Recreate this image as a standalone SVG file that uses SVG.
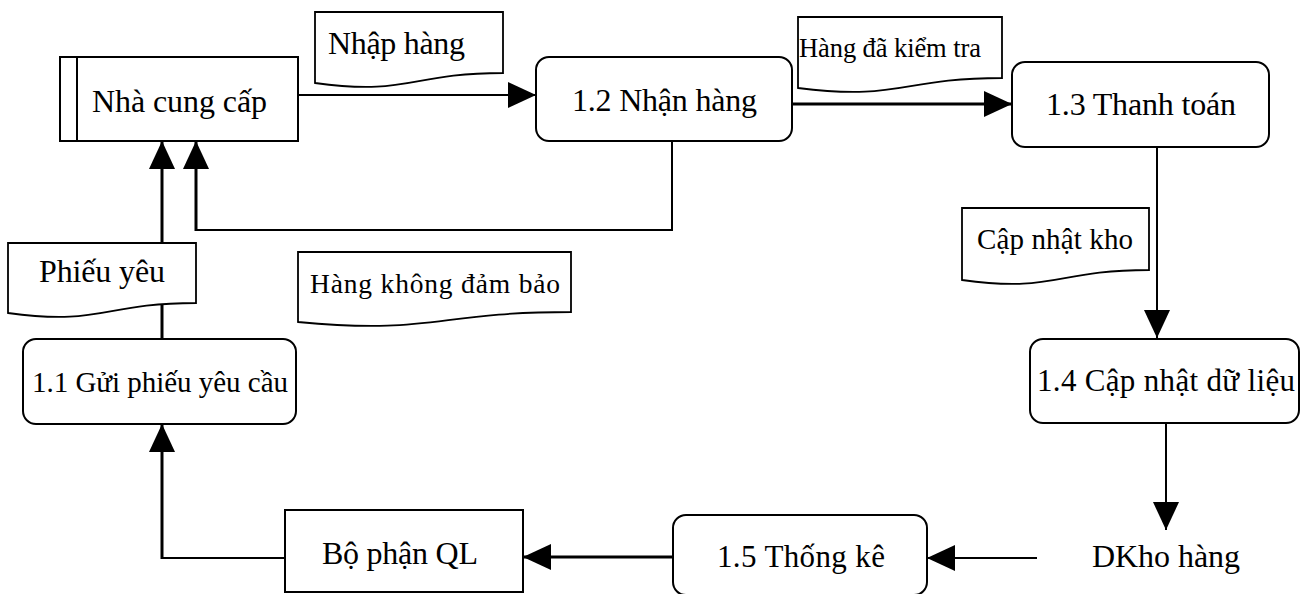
<svg xmlns="http://www.w3.org/2000/svg" width="1301" height="594" viewBox="0 0 1301 594">
  <style>
    .box { fill: #ffffff; stroke: #000000; stroke-width: 2; }
    .doc { fill: #ffffff; stroke: #000000; stroke-width: 1.8; }
    .lbl { font-family: "Liberation Serif", "Times New Roman", serif; fill: #000000; }
    .ln { fill: none; stroke: #000000; stroke-width: 2; }
    .thick { fill: none; stroke: #000000; stroke-width: 3; }
  </style>
  <defs>
    <marker id="arrow" markerUnits="userSpaceOnUse" viewBox="0 0 28 26" markerWidth="28" markerHeight="26" refX="28" refY="13" orient="auto">
      <path d="M0,0 L28,13 L0,26 Z" fill="#000000"/>
    </marker>
  </defs>
  <rect width="1301" height="594" fill="#ffffff"/>

  <!-- connectors -->
  <g id="connectors">
    <path class="ln" d="M298,95 H536" marker-end="url(#arrow)"/>
    <path class="thick" d="M792,104 H1012" marker-end="url(#arrow)"/>
    <path class="ln" d="M1157,147 V338" marker-end="url(#arrow)"/>
    <path class="ln" d="M1166,423 V530" marker-end="url(#arrow)"/>
    <path class="ln" d="M1037,558 H927" marker-end="url(#arrow)"/>
    <path class="thick" d="M673,557 H523" marker-end="url(#arrow)"/>
    <path class="ln" d="M284,558 H162"/>
    <path class="thick" d="M162,559 V424" marker-end="url(#arrow)"/>
    <path class="thick" d="M162,339 V141" marker-end="url(#arrow)"/>
    <path class="ln" d="M672,141 V230 H196"/>
    <path class="thick" d="M196,231 V141" marker-end="url(#arrow)"/>
  </g>

  <!-- external entity: supplier -->
  <g id="nha-cung-cap">
    <rect class="box" x="60" y="57" width="238" height="84"/>
    <line class="ln" x1="77" y1="57" x2="77" y2="141"/>
    <text class="lbl" x="92" y="112" font-size="32" textLength="175">Nhà cung cấp</text>
  </g>

  <g id="p12">
    <rect class="box" x="536" y="57" width="256" height="84" rx="13"/>
    <text class="lbl" x="572" y="111" font-size="32" textLength="185">1.2 Nhận hàng</text>
  </g>

  <g id="p13">
    <rect class="box" x="1012" y="62" width="257" height="85" rx="13"/>
    <text class="lbl" x="1046" y="115" font-size="32" textLength="190">1.3 Thanh toán</text>
  </g>

  <g id="p14">
    <rect class="box" x="1030" y="339" width="269" height="84" rx="13"/>
    <text class="lbl" x="1037" y="391" font-size="31" textLength="258">1.4 Cập nhật dữ liệu</text>
  </g>

  <g id="p11">
    <rect class="box" x="23" y="339" width="273" height="85" rx="13"/>
    <text class="lbl" x="32" y="392" font-size="29" textLength="256">1.1 Gửi phiếu yêu cầu</text>
  </g>

  <g id="p15">
    <rect class="box" x="673" y="515" width="254" height="80" rx="13"/>
    <text class="lbl" x="717" y="567" font-size="31" textLength="168">1.5 Thống kê</text>
  </g>

  <g id="bo-phan-ql">
    <rect class="box" x="285" y="510" width="238" height="82"/>
    <text class="lbl" x="322" y="564" font-size="32" textLength="156">Bộ phận QL</text>
  </g>

  <g id="dkho-hang">
    <text class="lbl" x="1092" y="567" font-size="32" textLength="148">DKho hàng</text>
  </g>

  <!-- data flow labels (document shapes) -->
  <g id="doc-nhap-hang">
    <path class="doc" d="M315,12 H503 V73 C409,73 409,96 315,83 Z"/>
    <text class="lbl" x="328" y="54" font-size="32" textLength="137">Nhập hàng</text>
  </g>

  <g id="doc-hang-da-kiem-tra">
    <path class="doc" d="M798,17 H1002 V78 C900,78 900,101 798,88 Z"/>
    <text class="lbl" x="799" y="57" font-size="26.5" textLength="182">Hàng đã kiểm tra</text>
  </g>

  <g id="doc-cap-nhat-kho">
    <path class="doc" d="M962,208 H1149 V270 C1055,270 1055,293 962,280 Z"/>
    <text class="lbl" x="977" y="249" font-size="29" textLength="156">Cập nhật kho</text>
  </g>

  <g id="doc-phieu-yeu">
    <path class="doc" d="M8,243 H196 V303 C102,303 102,326 8,313 Z"/>
    <text class="lbl" x="39" y="282" font-size="32" textLength="126">Phiếu yêu</text>
  </g>

  <g id="doc-hang-khong-dam-bao">
    <path class="doc" d="M298,252 H571 V312 C434,312 434,335 298,322 Z"/>
    <text class="lbl" x="310" y="293" font-size="27.5" textLength="250">Hàng không đảm bảo</text>
  </g>
</svg>
